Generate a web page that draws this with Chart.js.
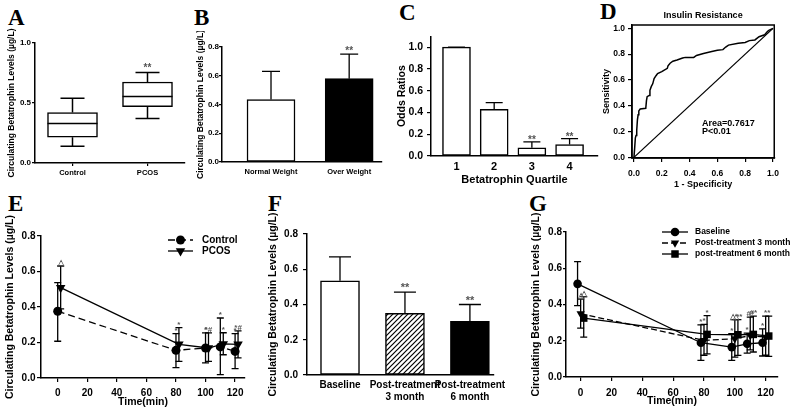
<!DOCTYPE html>
<html>
<head>
<meta charset="utf-8">
<script src="https://cdn.jsdelivr.net/npm/chart.js@4.4.0/dist/chart.umd.min.js"></script>
<style>
body { margin: 0; background: #fff; }
#fig { position: relative; width: 796px; height: 413px; overflow: hidden; background: #fff; }
#fig canvas { position: absolute; }
.lt { position: absolute; font: bold 23px "Liberation Serif", "Times New Roman", serif; line-height: 1; color: #000; }
</style>
</head>
<body>
<div id="fig">
  <div class="lt" style="left:8px;top:6px">A</div>
  <div class="lt" style="left:194px;top:6px">B</div>
  <div class="lt" style="left:399px;top:1px">C</div>
  <div class="lt" style="left:600px;top:0px">D</div>
  <div class="lt" style="left:8px;top:192px">E</div>
  <div class="lt" style="left:268px;top:192px">F</div>
  <div class="lt" style="left:529px;top:192px">G</div>
</div>
<script>
// ---- data ----
const yTitle = 'Circulating Betatrophin Levels (µg/L)'

// A: box plot
const boxCats = ['Control', 'PCOS']
const boxMin = [0.14, 0.37]
const boxQ1 = [0.215, 0.47]
const boxMed = [0.33, 0.555]
const boxQ3 = [0.42, 0.675]
const boxMax = [0.54, 0.755]
const boxMarks = ['', '**']
const ticksA = [0, 0.5, 1.0]

// B
const catsB = ['Normal Weight', 'Over Weight']
const meanB = [0.435, 0.58]
const hiB = [0.63, 0.75]
const marksB = ['', '**']
const ticksB = [0, 0.2, 0.4, 0.6, 0.8]

// C
const catsC = ['1', '2', '3', '4']
const orC = [1.0, 0.43, 0.075, 0.105]
const orHiC = [1.0, 0.49, 0.13, 0.16]
const marksC = ['', '', '**', '**']
const ticksC = [0, 0.2, 0.4, 0.6, 0.8, 1.0]

// D: ROC
const rocFpr = [0, 0.005, 0.01, 0.015, 0.02, 0.025, 0.03, 0.035, 0.045, 0.085,
  0.09, 0.095, 0.11, 0.115, 0.125, 0.135, 0.145, 0.16, 0.17, 0.2,
  0.215, 0.24, 0.245, 0.26, 0.28, 0.31, 0.35, 0.37, 0.43, 0.45,
  0.5, 0.56, 0.6, 0.64, 0.66, 0.68, 0.75, 0.8, 0.83, 0.87,
  0.9, 0.94, 0.96, 0.97, 1.0]
const rocTpr = [0, 0.07, 0.15, 0.17, 0.21, 0.29, 0.33, 0.36, 0.375, 0.38,
  0.44, 0.47, 0.48, 0.52, 0.55, 0.57, 0.61, 0.635, 0.65, 0.665,
  0.675, 0.69, 0.71, 0.73, 0.745, 0.755, 0.77, 0.775, 0.775, 0.79,
  0.805, 0.82, 0.83, 0.835, 0.855, 0.87, 0.885, 0.89, 0.905, 0.91,
  0.935, 0.95, 0.975, 0.985, 1.0]
const refX = [0, 1]
const refY = [0, 1]
const ticksD = [0, 0.2, 0.4, 0.6, 0.8, 1.0]
const notesD = ['Area=0.7617', 'P<0.01']

// E
const ticksTime = [0, 20, 40, 60, 80, 100, 120]
const ticksE = [0, 0.2, 0.4, 0.6, 0.8]
const timesE = [0, 80, 100, 110, 120]
const ctrlE = [0.376, 0.156, 0.169, 0.175, 0.15]
const ctrlLoE = [0.207, 0.058, 0.085, 0.019, 0.053]
const ctrlHiE = [0.537, 0.25, 0.254, 0.338, 0.25]
const ctrlMarksE = ['', '*', '*', '*', '*']
const pcosE = [0.509, 0.19, 0.169, 0.192, 0.19]
const pcosLoE = [0.39, 0.094, 0.094, 0.131, 0.113]
const pcosHiE = [0.631, 0.284, 0.254, 0.255, 0.265]
const pcosMarksE = ['△', '*', '*#', '*', '*#']

// F
const catsF = ['Baseline', ['Post-treatment', '3 month'], ['Post-treatment', '6 month']]
const meanF = [0.535, 0.35, 0.305]
const hiF = [0.67, 0.47, 0.40]
const marksF = ['', '**', '**']

// G
const timesG = [0, 80, 100, 110, 120]
const baseG = [0.514, 0.189, 0.165, 0.183, 0.189]
const baseLoG = [0.394, 0.092, 0.092, 0.132, 0.116]
const baseHiG = [0.637, 0.288, 0.239, 0.242, 0.266]
const baseMarksG = ['', '*', '*', '*', '*']
const post3G = [0.349, 0.202, 0.211, 0.229, 0.22]
const post3LoG = [0.27, 0.12, 0.11, 0.15, 0.12]
const post3HiG = [0.43, 0.29, 0.317, 0.33, 0.336]
const post3MarksG = ['△', '*', '△*', '#*', '*']
const post6G = [0.325, 0.235, 0.233, 0.235, 0.226]
const post6LoG = [0.22, 0.128, 0.119, 0.138, 0.114]
const post6HiG = [0.444, 0.339, 0.317, 0.336, 0.336]
const post6MarksG = ['△', '*', '△*', '#*', '*']

// ---- setup ----
const FONT = '"Liberation Sans", Arial, Helvetica, sans-serif'
Chart.defaults.font.family = FONT
Chart.defaults.font.weight = 'bold'
Chart.defaults.color = '#000'
Chart.defaults.animation = false
Chart.defaults.plugins.legend.display = false
Chart.defaults.plugins.tooltip.enabled = false

function mount(area, pad) {
  const c = document.createElement('canvas')
  c.width = area.r - area.l + pad.l + pad.r
  c.height = area.b - area.t + pad.t + pad.b
  c.style.left = (area.l - pad.l) + 'px'
  c.style.top = (area.t - pad.t) + 'px'
  document.getElementById('fig').appendChild(c)
  return c
}

function baseOptions(pad) {
  return {
    responsive: false, devicePixelRatio: 1, animation: false,
    layout: { padding: { top: pad.t, right: pad.r, left: 0, bottom: 0 } }
  }
}

function axisY(o) {
  return {
    type: 'linear', position: 'left', min: o.min, max: o.max,
    afterBuildTicks: s => { s.ticks = o.ticks.map(v => ({ value: v })) },
    afterFit: s => { s.width = o.w },
    ticks: { font: { size: o.fs, weight: 'bold' }, padding: o.tp, autoSkip: false, callback: v => v.toFixed(1) },
    grid: { drawOnChartArea: false, color: '#000', lineWidth: 1.2, tickLength: o.tl },
    border: { color: '#000', width: 1.5 },
    title: { display: !!o.title, text: o.title, font: { size: o.tfs, weight: 'bold' }, padding: { top: o.tpt, bottom: 0 } }
  }
}

function axisX(o) {
  const ax = {
    type: o.type || 'linear', position: 'bottom', offset: !!o.offset,
    afterFit: s => { s.height = o.h },
    ticks: { font: { size: o.fs, weight: 'bold' }, padding: o.tp, autoSkip: false, maxRotation: 0, minRotation: 0 },
    grid: { drawOnChartArea: false, offset: false, color: '#000', lineWidth: 1.2, drawTicks: o.tl > 0, tickLength: o.tl },
    border: { color: '#000', width: 1.5 },
    title: { display: !!o.title, text: o.title, font: { size: o.tfs, weight: 'bold' }, padding: { top: 0, bottom: o.tpb || 0 } }
  }
  if (ax.type === 'linear') {
    ax.min = o.min
    ax.max = o.max
    ax.afterBuildTicks = s => { s.ticks = o.ticks.map(v => ({ value: v })) }
    if (o.labels) ax.ticks.callback = v => o.labels[v - 1]
    else ax.ticks.callback = o.fmt
  }
  return ax
}

// ---- plugins ----
const errorBars = {
  id: 'errorBars',
  beforeDatasetsDraw(chart) {
    const ctx = chart.ctx
    chart.data.datasets.forEach((ds, i) => {
      if (!ds.errHi) return
      const meta = chart.getDatasetMeta(i)
      const ys = chart.scales[meta.yAxisID]
      const cw = (ds.capWidth || 8) / 2
      ctx.save()
      ctx.strokeStyle = '#000'
      ctx.lineWidth = ds.errWidth || 1.3
      meta.data.forEach((el, j) => {
        const x = el.x
        const top = ys.getPixelForValue(ds.errHi[j])
        const bot = ds.errLo ? ys.getPixelForValue(ds.errLo[j]) : el.y
        ctx.beginPath()
        ctx.moveTo(x, bot); ctx.lineTo(x, top)
        ctx.moveTo(x - cw, top); ctx.lineTo(x + cw, top)
        if (ds.errLo) { ctx.moveTo(x - cw, bot); ctx.lineTo(x + cw, bot) }
        ctx.stroke()
      })
      ctx.restore()
    })
  }
}

const marks = {
  id: 'marks',
  afterDatasetsDraw(chart, args, opts) {
    const ctx = chart.ctx
    chart.data.datasets.forEach((ds, i) => {
      if (!ds.marks) return
      const meta = chart.getDatasetMeta(i)
      const ys = chart.scales[meta.yAxisID]
      ctx.save()
      ctx.fillStyle = opts.color || '#555'
      ctx.font = 'bold ' + (opts.size || 9) + 'px ' + FONT
      ctx.textAlign = 'center'
      ctx.textBaseline = 'alphabetic'
      meta.data.forEach((el, j) => {
        const m = ds.marks[j]
        if (!m) return
        const top = ys.getPixelForValue(ds.markAt[j])
        ctx.fillText(m, el.x, top - (opts.off || 0))
      })
      ctx.restore()
    })
  }
}

const boxWhiskers = {
  id: 'boxWhiskers',
  afterDatasetsDraw(chart) {
    const ctx = chart.ctx
    const ys = chart.scales.y
    chart.data.datasets.forEach((ds, i) => {
      if (!ds.median) return
      const meta = chart.getDatasetMeta(i)
      ctx.save()
      ctx.strokeStyle = '#000'
      ctx.lineWidth = 1.5
      meta.data.forEach((el, j) => {
        const x = el.x, hw = el.width / 2, cw = ds.capWidth / 2
        const lo = ys.getPixelForValue(ds.data[j][0])
        const hi = ys.getPixelForValue(ds.data[j][1])
        const med = ys.getPixelForValue(ds.median[j])
        const wLo = ys.getPixelForValue(ds.whiskLo[j])
        const wHi = ys.getPixelForValue(ds.whiskHi[j])
        ctx.beginPath()
        ctx.moveTo(x - hw, med); ctx.lineTo(x + hw, med)
        ctx.moveTo(x, hi); ctx.lineTo(x, wHi)
        ctx.moveTo(x - cw, wHi); ctx.lineTo(x + cw, wHi)
        ctx.moveTo(x, lo); ctx.lineTo(x, wLo)
        ctx.moveTo(x - cw, wLo); ctx.lineTo(x + cw, wLo)
        ctx.stroke()
      })
      ctx.restore()
    })
  }
}

function drawMarker(ctx, style, rot, r, x, y) {
  ctx.beginPath()
  if (style === 'rect') {
    const s = r * Math.SQRT1_2
    ctx.rect(x - s, y - s, 2 * s, 2 * s)
  } else if (style === 'triangle') {
    let a = (rot || 0) * Math.PI / 180
    for (let k = 0; k < 3; k++) {
      const px = x + Math.sin(a) * r, py = y - Math.cos(a) * r
      if (k === 0) ctx.moveTo(px, py); else ctx.lineTo(px, py)
      a += 2 * Math.PI / 3
    }
    ctx.closePath()
  } else {
    ctx.arc(x, y, r, 0, Math.PI * 2)
  }
  ctx.fill()
}

const lineLegend = {
  id: 'lineLegend',
  afterDraw(chart, args, opts) {
    const ctx = chart.ctx, a = chart.chartArea
    ctx.save()
    chart.data.datasets.forEach((ds, i) => {
      const y = a.top + opts.y + i * opts.rowH
      const x0 = a.left + opts.x, x1 = x0 + opts.len
      ctx.strokeStyle = '#000'
      ctx.fillStyle = '#000'
      ctx.lineWidth = ds.borderWidth
      ctx.setLineDash(ds.borderDash || [])
      ctx.beginPath(); ctx.moveTo(x0, y); ctx.lineTo(x1, y); ctx.stroke()
      ctx.setLineDash([])
      drawMarker(ctx, ds.pointStyle, ds.pointRotation, ds.pointRadius, (x0 + x1) / 2, y)
      ctx.font = 'bold ' + opts.size + 'px ' + FONT
      ctx.textAlign = 'left'
      ctx.textBaseline = 'middle'
      ctx.fillText(ds.label, x1 + opts.gap, y)
    })
    ctx.restore()
  }
}

const frame = {
  id: 'frame',
  afterDraw(chart) {
    const ctx = chart.ctx, a = chart.chartArea
    ctx.save()
    ctx.strokeStyle = '#000'
    ctx.lineWidth = 1.5
    ctx.strokeRect(a.left, a.top, a.right - a.left, a.bottom - a.top)
    ctx.restore()
  }
}

const notes = {
  id: 'notes',
  afterDraw(chart, args, opts) {
    const ctx = chart.ctx
    ctx.save()
    ctx.fillStyle = '#000'
    ctx.font = 'bold ' + opts.size + 'px ' + FONT
    ctx.textAlign = 'left'
    ctx.textBaseline = 'middle'
    opts.items.forEach(n => {
      ctx.fillText(n.text, chart.scales.x.getPixelForValue(n.x), chart.scales.y.getPixelForValue(n.y))
    })
    ctx.restore()
  }
}

function hatch() {
  const c = document.createElement('canvas')
  c.width = 5; c.height = 5
  const g = c.getContext('2d')
  g.fillStyle = '#fff'; g.fillRect(0, 0, 5, 5)
  g.strokeStyle = '#000'; g.lineWidth = 1.2
  g.beginPath()
  g.moveTo(0, 5); g.lineTo(5, 0)
  g.moveTo(-1, 1); g.lineTo(1, -1)
  g.moveTo(4, 6); g.lineTo(6, 4)
  g.stroke()
  return g.createPattern(c, 'repeat')
}

function lineSet(label, times, dodge, vals, lo, hi, mk, style) {
  return Object.assign({
    label: label,
    data: times.map((t, i) => ({ x: t + dodge, y: vals[i] })),
    borderColor: '#000', backgroundColor: '#000', borderWidth: 1.3,
    pointBorderColor: '#000', pointBackgroundColor: '#000', pointBorderWidth: 0,
    tension: 0, clip: false,
    errLo: lo, errHi: hi, capWidth: 7, marks: mk, markAt: hi
  }, style)
}

// ---- A ----
const areaA = { l: 35, t: 43, r: 185, b: 163 }, padA = { l: 35, t: 18, r: 6, b: 25 }
new Chart(mount(areaA, padA), {
  type: 'bar',
  data: {
    labels: boxCats,
    datasets: [{
      data: boxQ1.map((q, i) => [q, boxQ3[i]]),
      backgroundColor: '#fff', borderColor: '#000', borderWidth: 1.5, borderSkipped: false, barThickness: 50,
      median: boxMed, whiskLo: boxMin, whiskHi: boxMax, capWidth: 24,
      marks: boxMarks, markAt: boxMax
    }]
  },
  options: Object.assign(baseOptions(padA), {
    scales: {
      x: axisX({ type: 'category', offset: true, h: padA.b, fs: 7.5, tp: 2.5, tl: 3 }),
      y: axisY({ min: 0, max: 1, ticks: ticksA, w: padA.l, fs: 8, tp: 1, tl: 3, title: yTitle, tfs: 8.5, tpt: 6.9 })
    },
    plugins: { marks: { size: 10, off: 1.5 } }
  }),
  plugins: [boxWhiskers, marks]
})

// ---- B ----
const areaB = { l: 222, t: 47, r: 382, b: 162 }, padB = { l: 30, t: 16, r: 6, b: 25 }
new Chart(mount(areaB, padB), {
  type: 'bar',
  data: {
    datasets: [{
      data: meanB.map((v, i) => ({ x: i + 1, y: v })),
      backgroundColor: ['#fff', '#000'], borderColor: '#000', borderWidth: 1.5, borderSkipped: false, barThickness: 48,
      errHi: hiB, capWidth: 18, marks: marksB, markAt: hiB
    }]
  },
  options: Object.assign(baseOptions(padB), {
    scales: {
      x: axisX({ min: 0.373, max: 2.42, ticks: [1, 2], labels: catsB, h: padB.b, fs: 7.5, tp: 5.8, tl: 0 }),
      y: axisY({ min: 0, max: 0.8, ticks: ticksB, w: padB.l, fs: 8, tp: 0, tl: 3, title: yTitle, tfs: 8.5, tpt: 3.9 })
    },
    plugins: { marks: { size: 10, off: 0 } }
  }),
  plugins: [errorBars, marks]
})

// ---- C ----
const areaC = { l: 431, t: 34, r: 598, b: 156 }, padC = { l: 36, t: 8, r: 6, b: 31 }
new Chart(mount(areaC, padC), {
  type: 'bar',
  data: {
    datasets: [{
      data: orC.map((v, i) => ({ x: i + 1, y: v })),
      backgroundColor: '#fff', borderColor: '#000', borderWidth: 1.5, borderSkipped: false, barThickness: 28,
      errHi: orHiC, capWidth: 17, marks: marksC, markAt: orHiC
    }]
  },
  options: Object.assign(baseOptions(padC), {
    scales: {
      x: axisX({ min: 0.324, max: 4.754, ticks: [1, 2, 3, 4], labels: catsC, h: padC.b, fs: 11, tp: 4.4, tl: 0,
        title: 'Betatrophin Quartile', tfs: 11, tpb: 0.4 }),
      y: axisY({ min: 0, max: 1.1, ticks: ticksC, w: padC.l, fs: 10.5, tp: 4, tl: 4, title: 'Odds Ratios', tfs: 10.5, tpt: 0.7 })
    },
    plugins: { marks: { size: 10, off: -1.5 } }
  }),
  plugins: [errorBars, marks]
})

// ---- D ----
const areaD = { l: 632, t: 25, r: 778, b: 158 }, padD = { l: 32, t: 21, r: 8, b: 33 }
const optD = baseOptions(padD)
optD.layout.padding.top = 0
new Chart(mount(areaD, padD), {
  type: 'scatter',
  data: {
    datasets: [
      { data: rocFpr.map((x, i) => ({ x: x, y: rocTpr[i] })), showLine: true, borderColor: '#000', borderWidth: 1.5, pointRadius: 0, tension: 0, clip: false },
      { data: refX.map((x, i) => ({ x: x, y: refY[i] })), showLine: true, borderColor: '#000', borderWidth: 1.3, pointRadius: 0, tension: 0, clip: false }
    ]
  },
  options: Object.assign(optD, {
    scales: {
      x: axisX({ min: -0.014, max: 1.009, ticks: ticksD, fmt: v => v.toFixed(1), h: padD.b, fs: 8.5, tp: 7, tl: 4,
        title: '1 - Specificity', tfs: 9, tpb: 0.6 }),
      y: axisY({ min: -0.005, max: 1.026, ticks: ticksD, w: padD.l, fs: 8.5, tp: 3, tl: 4, title: 'Sensitivity', tfs: 9, tpt: 0.9 })
    },
    plugins: {
      title: { display: true, text: 'Insulin Resistance', fullSize: false, color: '#000', font: { size: 9, weight: 'bold' }, padding: { top: 6.6, bottom: 3.6 } },
      notes: { size: 9, items: [{ x: 0.49, y: 0.264, text: notesD[0] }, { x: 0.49, y: 0.198, text: notesD[1] }] }
    }
  }),
  plugins: [frame, notes]
})

// ---- E ----
const areaE = { l: 41, t: 236, r: 245, b: 378 }, padE = { l: 41, t: 24, r: 8, b: 30 }
new Chart(mount(areaE, padE), {
  type: 'line',
  data: {
    datasets: [
      lineSet('Control', timesE, 0, ctrlE, ctrlLoE, ctrlHiE, ctrlMarksE, { borderDash: [7, 4], pointStyle: 'circle', pointRadius: 4.5 }),
      lineSet('PCOS', timesE, 2, pcosE, pcosLoE, pcosHiE, pcosMarksE, { pointStyle: 'triangle', pointRotation: 180, pointRadius: 5.5 })
    ]
  },
  options: Object.assign(baseOptions(padE), {
    scales: {
      x: axisX({ min: -11.3, max: 126.7, ticks: ticksTime, fmt: v => String(v), h: padE.b, fs: 10, tp: 5, tl: 4,
        title: 'Time(min)', tfs: 10.5, tpb: 0 }),
      y: axisY({ min: 0, max: 0.8, ticks: ticksE, w: padE.l, fs: 10, tp: 1.5, tl: 4, title: yTitle, tfs: 10.5, tpt: 3.7 })
    },
    plugins: {
      marks: { size: 8, off: 1 },
      lineLegend: { x: 127, y: 4, rowH: 11, len: 25, gap: 9, size: 10 }
    }
  }),
  plugins: [errorBars, marks, lineLegend]
})

// ---- F ----
const areaF = { l: 307, t: 234, r: 497, b: 375 }, padF = { l: 45, t: 24, r: 14, b: 30 }
new Chart(mount(areaF, padF), {
  type: 'bar',
  data: {
    datasets: [{
      data: meanF.map((v, i) => ({ x: i + 1, y: v })),
      backgroundColor: ['#fff', hatch(), '#000'], borderColor: '#000', borderWidth: 1.5, borderSkipped: false, barThickness: 39,
      errHi: hiF, capWidth: 22, marks: marksF, markAt: hiF
    }]
  },
  options: Object.assign(baseOptions(padF), {
    scales: {
      x: axisX({ min: 0.492, max: 3.371, ticks: [1, 2, 3], labels: catsF, h: padF.b, fs: 10, tp: 4, tl: 0 }),
      y: axisY({ min: 0, max: 0.8, ticks: ticksE, w: padF.l, fs: 10, tp: 5, tl: 4, title: yTitle, tfs: 10.5, tpt: 4.7 })
    },
    plugins: { marks: { size: 11, off: 1 } }
  }),
  plugins: [errorBars, marks]
})

// ---- G ----
const areaG = { l: 566, t: 232, r: 778, b: 377 }, padG = { l: 40, t: 22, r: 18, b: 30 }
new Chart(mount(areaG, padG), {
  type: 'line',
  data: {
    datasets: [
      lineSet('Baseline', timesG, -2, baseG, baseLoG, baseHiG, baseMarksG, { pointStyle: 'circle', pointRadius: 4.3 }),
      lineSet('Post-treatment 3 month', timesG, 0, post3G, post3LoG, post3HiG, post3MarksG, { borderDash: [6, 3], pointStyle: 'triangle', pointRotation: 180, pointRadius: 4.8 }),
      lineSet('post-treatment 6 month', timesG, 2, post6G, post6LoG, post6HiG, post6MarksG, { pointStyle: 'rect', pointRadius: 5.3 })
    ]
  },
  options: Object.assign(baseOptions(padG), {
    scales: {
      x: axisX({ min: -9.5, max: 128, ticks: ticksTime, fmt: v => String(v), h: padG.b, fs: 10, tp: 6, tl: 4,
        title: 'Time(min)', tfs: 10.5, tpb: 0 }),
      y: axisY({ min: 0, max: 0.8, ticks: ticksE, w: padG.l, fs: 10, tp: 1, tl: 3, title: yTitle, tfs: 10.5, tpt: 3.7 })
    },
    plugins: {
      marks: { size: 8, off: 1 },
      lineLegend: { x: 96, y: 0, rowH: 11, len: 26, gap: 7, size: 8.5 }
    }
  }),
  plugins: [errorBars, marks, lineLegend]
})
</script>
</body>
</html>
